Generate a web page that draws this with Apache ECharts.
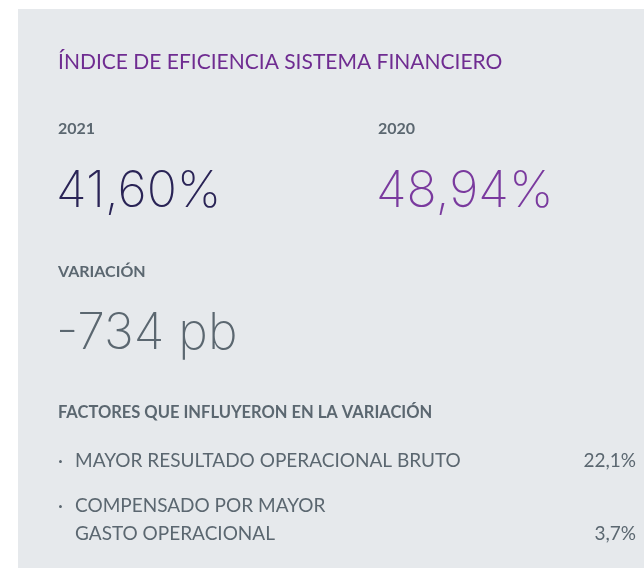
<!DOCTYPE html>
<html>
<head>
<meta charset="utf-8">
<script src="https://cdn.jsdelivr.net/npm/echarts@6/dist/echarts.min.js"></script>
<style>
  html, body { margin: 0; padding: 0; background: #ffffff; }
  #main { width: 644px; height: 568px; }
</style>
</head>
<body>
<div id="main"></div>
<script>
var title = 'ÍNDICE DE EFICIENCIA SISTEMA FINANCIERO';
var years = ['2021', '2020'];
var ratios = ['41,60%', '48,94%'];
var variationLabel = 'VARIACIÓN';
var variationValue = '-734 pb';
var factorsTitle = 'FACTORES QUE INFLUYERON EN LA VARIACIÓN';
var factorNames = ['MAYOR RESULTADO OPERACIONAL BRUTO', 'COMPENSADO POR MAYOR\nGASTO OPERACIONAL'];
var factorValues = ['22,1%', '3,7%'];

var chart = echarts.init(document.getElementById('main'));

var grey = '#5b6770';
var purple = '#6f2c91';
var navy = '#2a2456';
var numFont = 'Inter';
var txtFont = 'Lato';

var elements = [
  // panel
  { type: 'rect', shape: { x: 18, y: 9, width: 640, height: 570 }, style: { fill: '#e6e9ec' } },
  { type: 'text', left: 58, top: 52, style: { text: title, fill: purple, font: '21px ' + txtFont } }
];

// year blocks
years.forEach(function (y, i) {
  var x = i === 0 ? 58 : 378;
  elements.push({ type: 'text', left: x, top: 121, style: { text: y, fill: grey, font: 'bold 16px ' + txtFont } });
  elements.push({ type: 'text', left: x - 2, top: 167, style: { text: ratios[i], fill: i === 0 ? navy : '#7a3a9e', font: '200 50px ' + numFont } });
});

elements.push({ type: 'text', left: 58, top: 264, style: { text: variationLabel, fill: grey, font: 'bold 16px ' + txtFont } });
elements.push({ type: 'text', left: 56, top: 309, style: { text: variationValue, fill: grey, font: '200 50px ' + numFont } });
elements.push({ type: 'text', left: 58, top: 404, style: { text: factorsTitle, fill: grey, font: 'bold 16.5px ' + txtFont } });

var rowTops = [447, 492];
factorNames.forEach(function (n, i) {
  elements.push({ type: 'text', left: 58, top: rowTops[i], style: { text: '·', fill: grey, font: '19px ' + txtFont, lineHeight: 28 } });
  elements.push({ type: 'text', left: 75, top: rowTops[i], style: { text: n, fill: grey, font: '19px ' + txtFont, lineHeight: 28 } });
  var lines = n.split('\n').length;
  elements.push({ type: 'text', right: 8, top: rowTops[i] + (lines - 1) * 28, style: { text: factorValues[i], fill: grey, font: '19px ' + txtFont, lineHeight: 28, align: 'right' } });
});

chart.setOption({
  backgroundColor: '#ffffff',
  animation: false,
  graphic: { elements: elements }
});
</script>
</body>
</html>
